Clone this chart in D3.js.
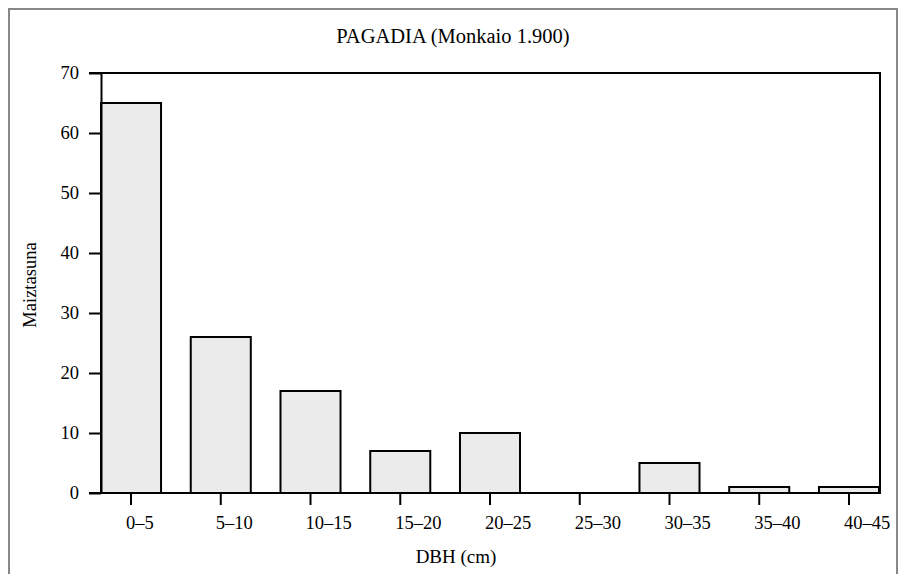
<!DOCTYPE html>
<html>
<head>
<meta charset="utf-8">
<script src="https://cdnjs.cloudflare.com/ajax/libs/d3/7.8.5/d3.min.js"></script>
<style>
  body { margin: 0; background: #fff; }
  text { font-family: "Liberation Serif", "Times New Roman", serif; fill: #000; }
</style>
</head>
<body>
<script>
var categories = ['0–5', '5–10', '10–15', '15–20', '20–25', '25–30', '30–35', '35–40', '40–45'];
var counts = [65, 26, 17, 7, 10, 0, 5, 1, 1];
var yTicks = [0, 10, 20, 30, 40, 50, 60, 70];

var w = 900;
var h = 574;

var svg = d3.select('body')
            .append('svg')
            .attr('width', w)
            .attr('height', h);

svg.append('rect')
   .attr('width', w)
   .attr('height', h)
   .attr('fill', 'white');

// grey frame round the figure
svg.append('rect')
   .attr('x', 9)
   .attr('y', 9)
   .attr('width', 888)
   .attr('height', 620)
   .attr('fill', 'none')
   .attr('stroke', '#888')
   .attr('stroke-width', 2);

var plotLeft = 101, plotRight = 880, plotTop = 73, plotBottom = 493;

var x = d3.scaleBand()
          .domain(categories)
          .range([plotLeft, 879])
          .paddingInner(0.331)
          .paddingOuter(0);

var y = d3.scaleLinear()
          .domain([0, 70])
          .range([plotBottom, plotTop]);

// bars
svg.selectAll('rect.bar')
   .data(counts)
   .enter()
   .append('rect')
   .attr('class', 'bar')
   .attr('x', function(d, i){ return x(categories[i]); })
   .attr('y', function(d){ return y(d); })
   .attr('width', x.bandwidth())
   .attr('height', function(d){ return y(0) - y(d); })
   .attr('fill', '#ebebeb')
   .attr('stroke', '#000')
   .attr('stroke-width', 2);

// y axis
var yAxis = svg.append('g')
   .attr('transform', 'translate(' + plotLeft + ',0)')
   .call(d3.axisLeft(y).tickValues(yTicks).tickSize(12).tickSizeOuter(0).tickPadding(10));
yAxis.selectAll('path, line').attr('stroke', '#000').attr('stroke-width', 2);
yAxis.selectAll('text')
     .style('font-family', '"Liberation Serif", serif')
     .style('font-size', '18.5px');

// x axis ticks
var xAxis = svg.append('g')
   .attr('transform', 'translate(0,' + plotBottom + ')')
   .call(d3.axisBottom(x).tickSize(12).tickSizeOuter(0).tickFormat(''));
xAxis.select('.domain').remove();
xAxis.selectAll('line').attr('stroke', '#000').attr('stroke-width', 2);

svg.selectAll('text.xlab')
   .data(categories)
   .enter()
   .append('text')
   .attr('class', 'xlab')
   .attr('x', function(d){ return x(d) + x.bandwidth() / 2 - 5; })
   .attr('y', 529)
   .style('font-size', '18.5px')
   .text(function(d){ return d; });

// frame round the plot
svg.append('path')
   .attr('d', 'M' + (plotLeft - 12) + ',' + plotTop + 'H' + plotRight + 'V' + plotBottom + 'H' + (plotLeft - 12))
   .attr('fill', 'none')
   .attr('stroke', '#000')
   .attr('stroke-width', 2);

// titles
svg.append('text')
   .attr('x', 453)
   .attr('y', 43)
   .attr('text-anchor', 'middle')
   .style('font-size', '20.5px')
   .text('PAGADIA (Monkaio 1.900)');

svg.append('text')
   .attr('x', 456)
   .attr('y', 563)
   .attr('text-anchor', 'middle')
   .style('font-size', '19px')
   .text('DBH (cm)');

svg.append('text')
   .attr('transform', 'translate(36,285) rotate(-90)')
   .attr('text-anchor', 'middle')
   .style('font-size', '18.5px')
   .text('Maiztasuna');
</script>
</body>
</html>
